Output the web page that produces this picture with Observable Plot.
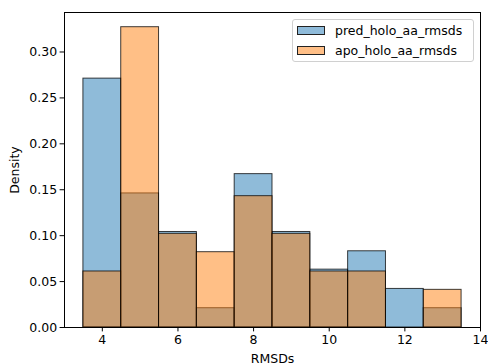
<!DOCTYPE html>
<html>
<head>
<meta charset="utf-8">
<script src="https://cdn.jsdelivr.net/npm/d3@7"></script>
<script src="https://cdn.jsdelivr.net/npm/@observablehq/plot@0.6"></script>
<style>
  html, body { margin: 0; padding: 0; background: white; }
  #wrap { position: relative; width: 488px; height: 364px; font-family: "DejaVu Sans", sans-serif; }
  #wrap svg { display: block; }
  .legend { position: absolute; left: 292px; top: 19px; width: 182px; height: 43px;
            border: 1px solid #d0d0d0; border-radius: 3px; background: rgba(255,255,255,0.8);
            box-sizing: border-box; font-size: 12.5px; color: #000; }
  .item { position: absolute; left: 4px; height: 14px; display: flex; align-items: center; white-space: nowrap; }
  .sw { width: 28px; height: 9px; border: 1px solid #222; box-sizing: border-box; margin-right: 10px; }
</style>
</head>
<body>
<div id="wrap"></div>
<script>
const binEdges = [3.5, 4.5, 5.5, 6.5, 7.5, 8.5, 9.5, 10.5, 11.5, 12.5, 13.5];
const predHolo = [0.271, 0.146, 0.104, 0.021, 0.167, 0.104, 0.063, 0.083, 0.042, 0.021];
const apoHolo  = [0.061, 0.327, 0.102, 0.082, 0.143, 0.102, 0.061, 0.061, 0.000, 0.041];
const seriesNames = ["pred_holo_aa_rmsds", "apo_holo_aa_rmsds"];
const seriesColors = ["#1f77b4", "#ff7f0e"];
const xTicks = [4, 6, 8, 10, 12, 14];
const yTicks = [0, 0.05, 0.10, 0.15, 0.20, 0.25, 0.30];

const toBins = vals => vals.map((v, i) => ({x1: binEdges[i], x2: binEdges[i + 1], y: v}));

const chart = Plot.plot({
  width: 488,
  height: 364,
  marginLeft: 64,
  marginRight: 8,
  marginTop: 12,
  marginBottom: 37,
  style: {fontFamily: "DejaVu Sans, sans-serif", fontSize: "12.5px", color: "black", background: "white"},
  x: {domain: [3, 14]},
  y: {domain: [0, 0.343]},
  marks: [
    Plot.rectY(toBins(predHolo), {x1: "x1", x2: "x2", y: "y", fill: seriesColors[0], fillOpacity: 0.5,
      stroke: "black", strokeOpacity: 0.75, strokeWidth: 1}),
    Plot.rectY(toBins(apoHolo), {x1: "x1", x2: "x2", y: "y", fill: seriesColors[1], fillOpacity: 0.5,
      stroke: "black", strokeOpacity: 0.75, strokeWidth: 1}),
    Plot.axisX({ticks: xTicks, tickSize: 4.4, tickPadding: 3, tickFormat: d3.format("d"),
      label: "RMSDs", labelAnchor: "center", labelArrow: "none", labelOffset: 35}),
    Plot.axisY({ticks: yTicks, tickSize: 4.4, tickPadding: 3, tickFormat: d3.format(".2f"),
      label: "Density", labelAnchor: "center", labelArrow: "none", labelOffset: 54}),
    Plot.frame({stroke: "black", strokeWidth: 1})
  ]
});
const wrap = document.getElementById("wrap");
wrap.appendChild(chart);

const leg = document.createElement("div");
leg.className = "legend";
seriesNames.forEach((name, i) => {
  const it = document.createElement("div");
  it.className = "item";
  it.style.top = (3 + i * 20) + "px";
  const sw = document.createElement("div");
  sw.className = "sw";
  sw.style.background = d3.interpolateRgb("white", seriesColors[i])(0.5);
  const t = document.createElement("span");
  t.textContent = name;
  it.appendChild(sw); it.appendChild(t);
  leg.appendChild(it);
});
wrap.appendChild(leg);
</script>
</body>
</html>
